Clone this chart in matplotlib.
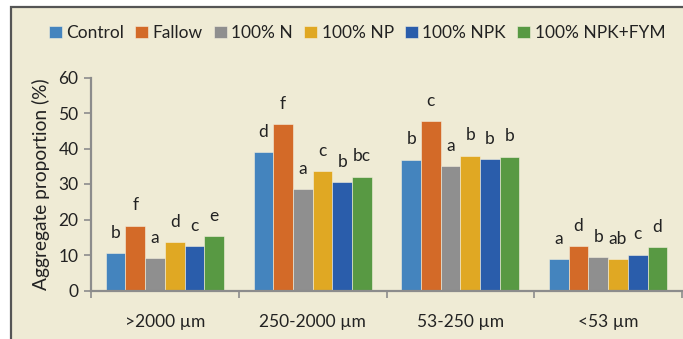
import matplotlib
matplotlib.use("Agg")
import matplotlib.pyplot as plt
import numpy as np
from matplotlib.patches import Rectangle

plt.rcParams['font.family'] = ['Lato', 'DejaVu Sans']

categories = [">2000 µm", "250-2000 µm", "53-250 µm", "<53 µm"]
series_names = ["Control", "Fallow", "100% N", "100% NP", "100% NPK", "100% NPK+FYM"]
control = [10.5, 39.0, 36.9, 8.8]
fallow = [18.3, 46.9, 47.8, 12.4]
n100 = [9.1, 28.5, 35.0, 9.3]
np100 = [13.7, 33.6, 38.0, 8.8]
npk100 = [12.4, 30.5, 37.0, 10.1]
npkfym = [15.3, 32.1, 37.7, 12.2]
letters_control = ["b", "d", "b", "a"]
letters_fallow = ["f", "f", "c", "d"]
letters_n = ["a", "a", "a", "b"]
letters_np = ["d", "c", "b", "ab"]
letters_npk = ["c", "b", "b", "c"]
letters_fym = ["e", "bc", "b", "d"]

values = [control, fallow, n100, np100, npk100, npkfym]
letters = [letters_control, letters_fallow, letters_n, letters_np, letters_npk, letters_fym]
colors = ["#4484BE", "#D36A28", "#8F8F8F", "#E0A823", "#2A5DAB", "#589943"]

W, H = 683, 339
fig = plt.figure(figsize=(W/100, H/100), dpi=100)
fig.patch.set_facecolor("white")
bg = Rectangle((11/W, -0.1), 1.2, 1 - 7/H + 0.1, transform=fig.transFigure,
               facecolor="#EFEBD5", edgecolor="#555555", lw=1.6, zorder=0)
fig.patches.append(bg)

ax = fig.add_axes([91/W, 1 - 290.5/H, (682 - 91)/W, (290.5 - 77.5)/H])
ax.set_facecolor("none")
ax.set_zorder(3)

x = np.arange(len(categories))
bw = 0.8 / 6
for i, (vals, col, labs) in enumerate(zip(values, colors, letters)):
    pos = x - 0.4 + bw * (i + 0.5)
    ax.bar(pos, vals, width=bw, color=col, label=series_names[i], zorder=2,
           edgecolor="#F4F0DE", linewidth=0.4)
    for xp, v, l in zip(pos, vals, labs):
        ax.annotate(l, (xp, v), xytext=(0, 11), textcoords="offset points",
                    ha="center", va="baseline", fontsize=12.5, color="#222222")

ax.set_ylim(0, 60)
ax.set_xlim(-0.5, len(categories) - 0.5)
ax.set_yticks(range(0, 61, 10))
ax.tick_params(axis="y", direction="out", length=5, color="#8C8C8C", width=1.2,
               labelsize=12.5, labelcolor="#222222", pad=4)
ax.set_xticks(np.arange(-0.5, len(categories), 1.0))
ax.set_xticklabels([])
ax.tick_params(axis="x", which="major", direction="out", length=5, color="#8C8C8C", width=1.2)
ax.set_xticks(x, minor=True)
ax.set_xticklabels(categories, minor=True)
ax.tick_params(axis="x", which="minor", length=0, labelsize=12.5, labelcolor="#222222", pad=17)

for s in ["top", "right"]:
    ax.spines[s].set_visible(False)
for s in ["left", "bottom"]:
    ax.spines[s].set_color("#8C8C8C")
    ax.spines[s].set_linewidth(1.6)

ax.set_ylabel("Aggregate proportion (%)", fontsize=13.8, color="#222222", labelpad=6)

leg = fig.legend(loc="center", bbox_to_anchor=(357/W, 1 - 33/H), ncol=6, frameon=False,
                 fontsize=12.5, handlelength=0.75, handleheight=0.75, handletextpad=0.25,
                 columnspacing=0.65, labelcolor="#222222")
leg.set_zorder(5)

fig.savefig("out.png", dpi=100)
